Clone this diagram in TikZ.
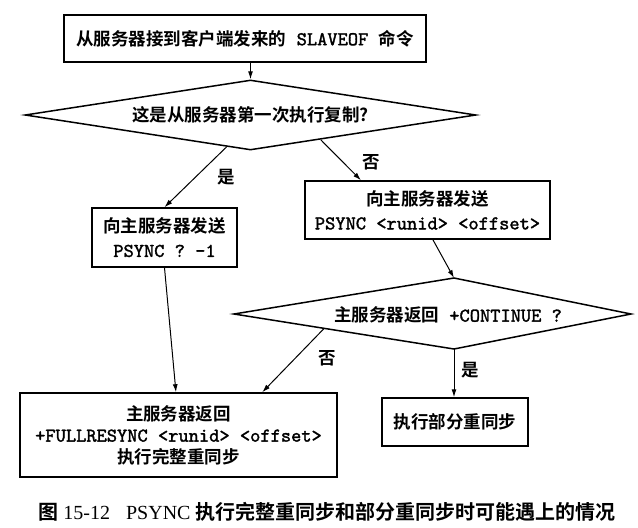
\documentclass[tikz,border=0pt]{standalone}
\usepackage{fontspec}
\usetikzlibrary{shapes.geometric,arrows.meta,calc}
\setmainfont{Liberation Serif}
\newfontfamily\cjk{Noto Sans CJK SC Bold}
\newfontfamily\mono{lmmono10-regular.otf}[BoldFont={lmmono10-regular.otf}, BoldFeatures={FakeBold=1.6}]
\newcommand{\mn}[1]{{\mono\bfseries\fontsize{19.5}{24}\selectfont #1}}
\begin{document}
\begin{tikzpicture}[x=1pt,y=-1pt,
  box/.style={draw, line width=1.5pt, rectangle, inner sep=0pt, align=center,
    font=\cjk\fontsize{17.5}{24}\selectfont},
  dia/.style={draw, line width=1.5pt, diamond, inner sep=0pt, aspect=6,
    font=\cjk\fontsize{17.5}{24}\selectfont},
  arr/.style={-{Latex[length=8pt,width=5pt]}, line width=1pt},
  lbl/.style={font=\cjk\fontsize{17.5}{17.5}\selectfont, inner sep=0pt}]
\useasboundingbox (0,0) rectangle (638,528);
\fill[white] (0,0) rectangle (638,528);

% nodes
\node[box, minimum width=362pt, minimum height=47pt] (b1) at (245,38.5)
  {从服务器接到客户端发来的\mn{ SLAVEOF }命令};
\node[dia, minimum width=451pt, minimum height=70pt] (d1) at (250.5,115)
  {这是从服务器第一次执行复制?};
\node[box, minimum width=145pt, minimum height=59pt] (bL) at (164.5,237.5)
  {向主服务器发送\\ \mn{PSYNC ? -1}};
\node[box, minimum width=245pt, minimum height=58pt] (bR) at (427.5,210)
  {向主服务器发送\\ \mn{PSYNC <runid> <offset>}};

\coordinate (d2t) at (454,278);
\coordinate (d2r) at (631,314);
\coordinate (d2b) at (454,349);
\coordinate (d2l) at (234,314);
\draw[line width=1.5pt] (d2t) -- (d2r) -- (d2b) -- (d2l) -- cycle;
\node[lbl] (d2) at (448,315) {主服务器返回\mn{ +CONTINUE ?}};

\node[box, minimum width=317pt, minimum height=84pt,
  font=\cjk\fontsize{17.5}{21.5}\selectfont] (bF) at (178.5,435)
  {主服务器返回\\ \mn{+FULLRESYNC <runid> <offset>}\\ 执行完整重同步};
\node[box, minimum width=146pt, minimum height=48pt] (bP) at (455,422)
  {执行部分重同步};

% connectors
\draw[arr] (d1.north |- b1.south) -- (d1.north);
\draw[arr] ($(d1.south)!0.106!(d1.west)$) -- (bL.north);
\draw[arr] ($(d1.south)!0.31!(d1.east)$) -- ($(bR.north west)!0.23!(bR.north east)$);
\draw[arr] ($(bR.south west)!0.522!(bR.south east)$) -- (d2t);
\draw[arr] (bL.south) -- ($(bF.north west)!0.492!(bF.north east)$);
\draw[arr] ($(d2l)!0.41!(d2b)$) -- ($(bF.north west)!0.763!(bF.north east)$);
\draw[arr] (d2b) -- (d2b |- bP.north);

% labels
\node[lbl] (l1) at (226,177) {是};
\node[lbl] (l2) at (371,162) {否};
\node[lbl] (l3) at (327,358) {否};
\node[lbl] (l4) at (470,370) {是};

% caption
\node[font=\cjk\fontsize{20}{20}\selectfont, inner sep=0pt] (cap) at (327,512)
  {图 {\rmfamily 15-12}\hspace{16pt}{\rmfamily PSYNC} 执行完整重同步和部分重同步时可能遇上的情况};
\end{tikzpicture}
\end{document}
